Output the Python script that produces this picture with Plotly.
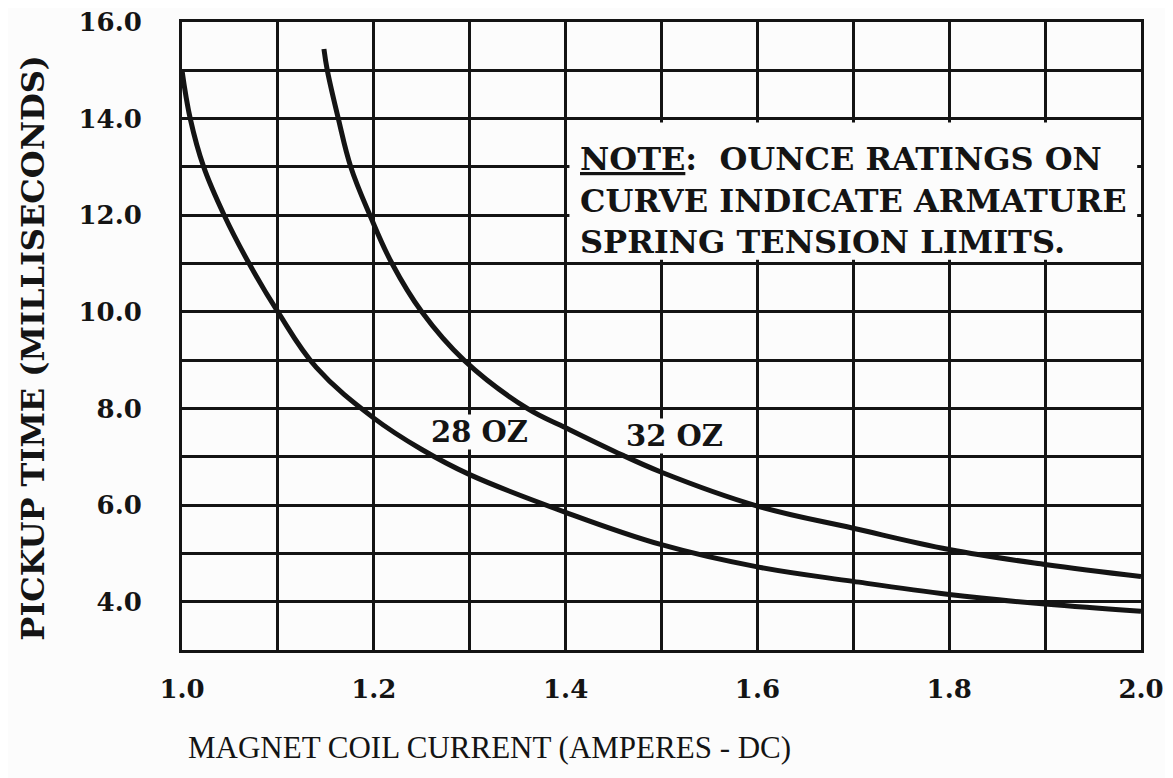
import plotly.graph_objects as go

# ---- data ----
current_28oz = [1.00, 1.0086, 1.0226, 1.044, 1.07, 1.10, 1.14, 1.20, 1.25, 1.30, 1.40, 1.50, 1.60, 1.70, 1.80, 1.90, 2.00]
time_28oz = [15.0, 14.0, 13.0, 12.0, 11.0, 10.0, 8.85, 7.8, 7.15, 6.63, 5.85, 5.18, 4.72, 4.42, 4.15, 3.95, 3.8]

current_32oz = [1.148, 1.1515, 1.163, 1.176, 1.196, 1.219, 1.25, 1.294, 1.36, 1.40, 1.45, 1.50, 1.60, 1.70, 1.80, 1.90, 2.00]
time_32oz = [15.44, 15.0, 14.0, 13.0, 12.0, 11.0, 10.0, 9.0, 8.0, 7.6, 7.12, 6.68, 5.98, 5.52, 5.08, 4.77, 4.52]

x_tickvals = [1.0, 1.1, 1.2, 1.3, 1.4, 1.5, 1.6, 1.7, 1.8, 1.9, 2.0]
x_ticktext = ["1.0", "", "1.2", "", "1.4", "", "1.6", "", "1.8", "", "2.0"]
y_tickvals = [3, 4, 5, 6, 7, 8, 9, 10, 11, 12, 13, 14, 15, 16]
y_ticktext = ["", "4.0", "", "6.0", "", "8.0", "", "10.0", "", "12.0", "", "14.0", "", "16.0"]

curve_labels = ["28 OZ", "32 OZ"]
label_pos = [(1.31, 7.52), (1.514, 7.44)]
note_lines = ["<u>NOTE</u>:  OUNCE RATINGS ON", "CURVE INDICATE ARMATURE", "SPRING TENSION LIMITS."]

x_title = "MAGNET COIL CURRENT (AMPERES - DC)"
y_title = "PICKUP TIME (MILLISECONDS)"

INK = "#141414"
BG = "#fcfcfc"
BOLD = "DejaVu Serif"

fig = go.Figure()
for xs, ys, name in [(current_28oz, time_28oz, curve_labels[0]), (current_32oz, time_32oz, curve_labels[1])]:
    fig.add_trace(go.Scatter(x=xs, y=ys, mode="lines", name=name,
                             line=dict(color=INK, width=5, shape="spline", smoothing=1.1),
                             showlegend=False, hoverinfo="skip", cliponaxis=False))

# white note box that hides the grid behind the note
fig.add_shape(type="rect", xref="x", yref="y", x0=1.404, x1=1.996, y0=11.08, y1=13.92,
              fillcolor=BG, line=dict(width=0), layer="above")

for text, (lx, ly) in zip(curve_labels, label_pos):
    fig.add_annotation(x=lx, y=ly, xref="x", yref="y", text=text, showarrow=False,
                       font=dict(family=BOLD, size=29, color=INK, weight="bold"),
                       bgcolor=BG, borderpad=0)

fig.add_annotation(x=1.413, y=12.3, xref="x", yref="y", text="<br>".join(note_lines),
                   showarrow=False, xanchor="left", yanchor="middle", align="left",
                   font=dict(family=BOLD, size=32, color=INK, weight="bold"))

fig.add_annotation(x=0.321, y=-0.155, xref="paper", yref="paper", text=x_title, showarrow=False,
                   xanchor="center", yanchor="middle",
                   font=dict(family="Liberation Serif", size=31, color=INK))
fig.add_annotation(x=-0.155, y=0.482, xref="paper", yref="paper", text=y_title, showarrow=False,
                   textangle=-90, xanchor="center", yanchor="middle",
                   font=dict(family=BOLD, size=32, color=INK, weight="bold"))

axis_common = dict(showgrid=True, gridcolor=INK, gridwidth=3, showline=True, linecolor=INK,
                   linewidth=3, mirror=True, zeroline=False, ticks="", tickmode="array",
                   automargin=False, ticklabeloverflow="allow",
                   tickfont=dict(family=BOLD, size=26, color=INK, weight="bold"))
fig.update_xaxes(range=[1.0, 2.0], tickvals=x_tickvals, ticktext=x_ticktext,
                 ticklabelstandoff=14, **axis_common)
fig.update_yaxes(range=[3.0, 16.0], tickvals=y_tickvals, ticktext=y_ticktext,
                 ticklabelstandoff=32, **axis_common)

# the page body adds an 8px offset, so margins are reduced accordingly
fig.update_layout(width=1173, height=778, margin=dict(l=174, r=40, t=14, b=136),
                  paper_bgcolor=BG, plot_bgcolor=BG)

fig.write_html("out.html")
